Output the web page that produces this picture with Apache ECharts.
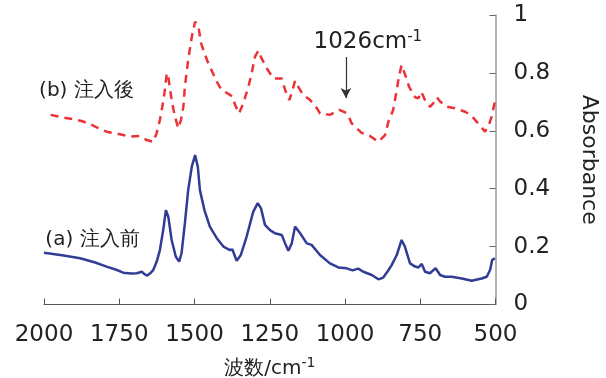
<!DOCTYPE html>
<html>
<head>
<meta charset="utf-8">
<script src="https://cdn.jsdelivr.net/npm/echarts@6/dist/echarts.min.js"></script>
<style>
html,body{margin:0;padding:0;background:#fff;}
#c{width:606px;height:378px;}
</style>
</head>
<body>
<div id="c"></div>
<script>
// (a) before injection
var waveA = [2000,1940,1880,1830,1792,1760,1737,1710,1692,1675,1665,1657,1645,1637,1625,1615,1604,1595,1587,1576,1562,1551,1543,1532,1521,1509,1498,1489,1482,1467,1449,1426,1404,1382,1374,1360,1346,1327,1305,1290,1279,1266,1249,1233,1210,1199,1188,1177,1166,1149,1127,1111,1083,1050,1022,994,975,956,939,911,889,873,858,845,828,812,801,784,767,756,745,734,718,699,684,668,646,612,579,546,529,518,511,502,500];
var absA = [0.179,0.170,0.160,0.145,0.131,0.120,0.110,0.107,0.108,0.113,0.104,0.100,0.110,0.119,0.150,0.188,0.257,0.326,0.303,0.223,0.165,0.148,0.177,0.280,0.395,0.476,0.516,0.476,0.395,0.326,0.269,0.229,0.200,0.188,0.190,0.151,0.171,0.234,0.320,0.350,0.332,0.275,0.257,0.246,0.240,0.211,0.186,0.211,0.269,0.246,0.211,0.206,0.171,0.142,0.128,0.125,0.118,0.124,0.113,0.102,0.087,0.093,0.115,0.136,0.171,0.223,0.200,0.142,0.131,0.128,0.140,0.113,0.108,0.125,0.102,0.096,0.096,0.090,0.082,0.090,0.096,0.119,0.154,0.160,0.160];
// (b) after injection
var waveB = [1978,1941,1903,1875,1847,1825,1792,1748,1714,1681,1659,1637,1626,1615,1607,1600,1592,1587,1581,1574,1565,1554,1545,1537,1532,1521,1509,1498,1487,1478,1467,1454,1441,1426,1410,1382,1374,1365,1352,1338,1321,1310,1299,1288,1277,1260,1238,1210,1199,1185,1174,1166,1155,1139,1119,1100,1083,1050,1019,992,978,945,917,889,867,856,850,840,828,821,812,798,787,767,756,747,734,718,707,695,684,662,635,601,579,562,546,535,522,513,502,500];
var absB = [0.655,0.647,0.640,0.634,0.623,0.612,0.597,0.588,0.580,0.582,0.568,0.562,0.591,0.637,0.683,0.729,0.799,0.787,0.741,0.695,0.649,0.609,0.637,0.683,0.752,0.845,0.925,0.977,0.960,0.902,0.868,0.833,0.804,0.770,0.741,0.724,0.718,0.689,0.660,0.695,0.752,0.799,0.856,0.877,0.850,0.816,0.781,0.781,0.741,0.706,0.741,0.773,0.752,0.724,0.709,0.689,0.660,0.655,0.672,0.660,0.626,0.593,0.582,0.562,0.585,0.631,0.637,0.672,0.741,0.787,0.827,0.787,0.752,0.716,0.712,0.735,0.706,0.683,0.695,0.716,0.701,0.683,0.678,0.666,0.651,0.631,0.612,0.597,0.620,0.649,0.701,0.690];

var xTicks = [2000,1750,1500,1250,1000,750,500];
var yTicks = [0,0.2,0.4,0.6,0.8,1];
var labelA = '(a) 注入前';
var labelB = '(b) 注入後';
var annotWave = 997;
var annotFrom = 0.855, annotTo = 0.713;
var annotText = '1026cm';

function zip(x, y){ var o=[]; for(var i=0;i<x.length;i++) o.push([x[i], y[i]]); return o; }

var FONT = 'DejaVu Sans';
var chart = echarts.init(document.getElementById('c'), null, {renderer:'canvas'});
chart.setOption({
  animation:false,
  backgroundColor:'#fff',
  textStyle:{fontFamily:FONT},
  grid:{left:44,right:110.5,top:15,bottom:73.5,outerBoundsMode:'none',containLabel:false},
  xAxis:{
    type:'value', inverse:true, min:500, max:2000, interval:250,
    axisLine:{show:true,lineStyle:{color:'#555',width:1}},
    axisTick:{show:true,inside:true,length:6,lineStyle:{color:'#555'}},
    splitLine:{show:false},
    axisLabel:{color:'#222',fontSize:23,fontFamily:FONT,margin:19,
      formatter:function(v){return xTicks.indexOf(v)>=0?String(v):'';}},
    name:'{t|波数/cm}{s|-1}',
    nameLocation:'middle', nameGap:52,
    nameTextStyle:{rich:{t:{fontSize:20,fontFamily:FONT,color:'#222',lineHeight:24},s:{fontSize:14,fontFamily:FONT,color:'#222',verticalAlign:'top',lineHeight:24}}}
  },
  yAxis:{
    type:'value', position:'right', min:0, max:1, interval:0.2,
    axisLine:{show:true,lineStyle:{color:'#999',width:1.5}},
    axisTick:{show:true,inside:true,length:6,lineStyle:{color:'#666'}},
    splitLine:{show:false},
    axisLabel:{color:'#222',fontSize:23,fontFamily:FONT,margin:18,
      formatter:function(v){ for(var i=0;i<yTicks.length;i++){ if(Math.abs(yTicks[i]-v)<1e-6) return String(yTicks[i]); } return ''; }},
    name:'Absorbance', nameLocation:'middle', nameGap:82, nameRotate:-90,
    nameTextStyle:{fontSize:22,fontFamily:FONT,color:'#222'}
  },
  series:[
    {
      name:'b', type:'line', data:zip(waveB, absB), symbol:'none', smooth:false,
      lineStyle:{color:'#ec3237',width:2.5,type:[8,6]},
      markLine:{
        silent:true, symbol:['none','arrow'], symbolSize:[8,10],
        lineStyle:{color:'#333',width:1.2,type:'solid'}, label:{show:false},
        data:[[{coord:[annotWave,annotFrom]},{coord:[annotWave,annotTo]}]]
      },
      markPoint:{
        symbol:'circle', symbolSize:0, silent:true,
        data:[
          {coord:[1859,0.737], label:{show:true,position:'inside',formatter:labelB,fontSize:20,fontFamily:FONT,color:'#222'}},
          {coord:[924,0.905], label:{show:true,position:'inside',formatter:'{t|'+annotText+'}{s|-1}',
            rich:{t:{fontSize:23,fontFamily:FONT,color:'#222',lineHeight:26},s:{fontSize:15,fontFamily:FONT,color:'#222',verticalAlign:'top',lineHeight:26}}}}
        ]
      }
    },
    {
      name:'a', type:'line', data:zip(waveA, absA), symbol:'none', smooth:false,
      lineStyle:{color:'#313c95',width:2.5},
      markPoint:{
        symbol:'circle', symbolSize:0, silent:true,
        data:[
          {coord:[1839,0.223], label:{show:true,position:'inside',formatter:labelA,fontSize:20,fontFamily:FONT,color:'#222'}}
        ]
      }
    }
  ]
});
</script>
</body>
</html>
